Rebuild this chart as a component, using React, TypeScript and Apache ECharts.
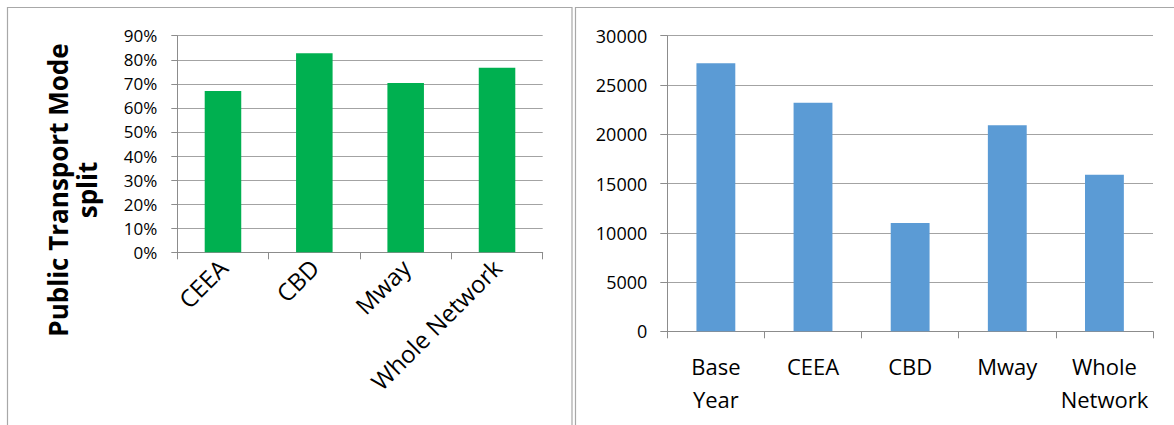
import React, { useEffect, useRef } from "react";
import * as echarts from "echarts";

// Left chart: public transport mode split
const modeCategories = ["CEEA", "CBD", "Mway", "Whole Network"];
const modeSplit = [0.67, 0.827, 0.703, 0.767];
const modeAxisMax = 0.9;
const modeAxisStep = 0.1;
const modeAxisTitle = "Public Transport Mode\nsplit";

// Right chart: volumes
const volumeCategories = ["Base Year", "CEEA", "CBD", "Mway", "Whole Network"];
const volumeValues = [27200, 23200, 11000, 20900, 15900];
const volumeAxisMax = 30000;
const volumeAxisStep = 5000;

export default function App() {
  const ref = useRef<HTMLDivElement>(null);

  useEffect(() => {
    if (!ref.current) return;
    const chart = echarts.init(ref.current, null, { renderer: "svg" });
    const font = "'Open Sans', 'Noto Sans', sans-serif";
    const axisColor = "#8c8c8c";
    const gridColor = "#a3a3a3";
    const borderColor = "#a8a8a8";

    const axisCommon = {
      axisLine: { show: true, lineStyle: { color: axisColor, width: 1 } },
      axisTick: { show: true, length: 7, lineStyle: { color: axisColor, width: 1 } },
    };

    chart.setOption({
      animation: false,
      backgroundColor: "#ffffff",
      grid: [
        { left: 177.3, top: 35.7, width: 365.4, height: 216.6 },
        { left: 667.3, top: 35.7, width: 485.7, height: 295.6 },
      ],
      xAxis: [
        {
          type: "category",
          gridIndex: 0,
          data: modeCategories,
          ...axisCommon,
          splitLine: { show: false },
          axisLabel: {
            interval: 0,
            rotate: 45,
            margin: 11,
            fontSize: 24,
            color: "#000",
            fontFamily: font,
          },
        },
        {
          type: "category",
          gridIndex: 1,
          data: volumeCategories,
          ...axisCommon,
          splitLine: { show: false },
          axisLabel: {
            interval: 0,
            margin: 18,
            fontSize: 22,
            lineHeight: 33,
            color: "#000",
            fontFamily: font,
            formatter: (v: string) => v.replace(" ", "\n"),
          },
        },
      ],
      yAxis: [
        {
          type: "value",
          gridIndex: 0,
          min: 0,
          max: modeAxisMax,
          interval: modeAxisStep,
          ...axisCommon,
          axisTick: { show: true, length: 6, lineStyle: { color: axisColor } },
          splitLine: { show: true, lineStyle: { color: gridColor, width: 1 } },
          axisLabel: {
            margin: 20,
            fontSize: 17,
            color: "#000",
            fontFamily: font,
            formatter: (v: number) => Math.round(v * 100) + "%",
          },
        },
        {
          type: "value",
          gridIndex: 1,
          min: 0,
          max: volumeAxisMax,
          interval: volumeAxisStep,
          ...axisCommon,
          axisTick: { show: true, length: 7, lineStyle: { color: axisColor } },
          splitLine: { show: true, lineStyle: { color: gridColor, width: 1 } },
          axisLabel: {
            margin: 20,
            fontSize: 18,
            color: "#000",
            fontFamily: font,
            formatter: (v: number) => String(v),
          },
        },
      ],
      series: [
        {
          type: "bar",
          xAxisIndex: 0,
          yAxisIndex: 0,
          data: modeSplit,
          barWidth: "40%",
          itemStyle: { color: "#00b050" },
        },
        {
          type: "bar",
          xAxisIndex: 1,
          yAxisIndex: 1,
          data: volumeValues,
          barWidth: "40%",
          itemStyle: { color: "#5b9bd5" },
        },
      ],
      graphic: [
        {
          type: "rect",
          shape: { x: 7.5, y: 7.5, width: 564.5, height: 440 },
          style: { fill: "none", stroke: borderColor, lineWidth: 1.2 },
          silent: true,
        },
        {
          type: "rect",
          shape: { x: 575.5, y: 7.5, width: 640, height: 440 },
          style: { fill: "none", stroke: borderColor, lineWidth: 1.2 },
          silent: true,
        },
        {
          type: "text",
          x: 72,
          y: 190,
          rotation: Math.PI / 2,
          style: {
            text: modeAxisTitle,
            font: `bold 26px ${font}`,
            fill: "#000",
            align: "center",
            verticalAlign: "middle",
            lineHeight: 29,
          },
        },
      ],
    });

    return () => chart.dispose();
  }, []);

  return (
    <div
      ref={ref}
      style={{ position: "absolute", left: 0, top: 0, width: 1174, height: 425 }}
    />
  );
}
